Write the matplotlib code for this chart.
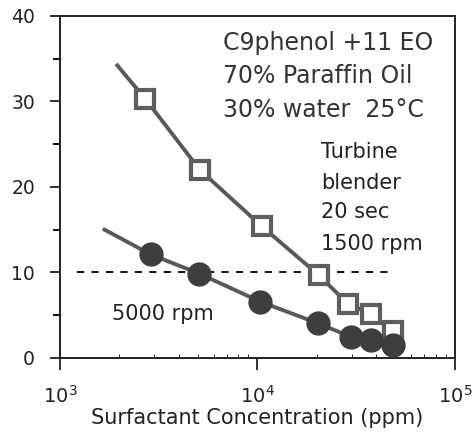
import matplotlib
matplotlib.use("Agg")
import matplotlib.pyplot as plt
from matplotlib.ticker import LogLocator, MultipleLocator, NullFormatter

# 1500 rpm (open squares)
conc_1500 = [2700, 5100, 10500, 20400, 28800, 37400, 48700]
drop_1500 = [30.3, 22.0, 15.4, 9.7, 6.3, 5.2, 3.1]
# 5000 rpm (filled circles)
conc_5000 = [2880, 5080, 10300, 20200, 29600, 37400, 48300]
drop_5000 = [12.1, 9.85, 6.6, 4.06, 2.5, 2.1, 1.5]
# fitted lines start a bit left of the first point
line_1500_x = [1950] + conc_1500
line_1500_y = [34.2] + drop_1500
line_5000_x = [1680] + conc_5000
line_5000_y = [15.0] + drop_5000
ref_x = [1220, 48300]
ref_y = [10, 10]

note_lines = ["C9phenol +11 EO", "70% Paraffin Oil", "30% water  25°C"]
mixer_lines = ["Turbine", "blender", "20 sec", "1500 rpm"]

line_col = "#595959"
sq_col = "#5e5e5e"
dot_col = "#3e3e3e"
txt_col = "#222222"

fig = plt.figure(figsize=(4.77, 4.36), dpi=100)
ax = fig.add_axes([0.1258, 0.1789, 0.828, 0.785])

ax.plot(line_1500_x, line_1500_y, color=line_col, lw=2.8, zorder=2)
ax.plot(conc_1500, drop_1500, ls="none", marker="s", ms=13, mfc="white",
        mec=sq_col, mew=3, zorder=3)
ax.plot(line_5000_x, line_5000_y, color=line_col, lw=2.8, zorder=2)
ax.plot(conc_5000, drop_5000, ls="none", marker="o", ms=16.5, mfc=dot_col,
        mec=dot_col, zorder=4)
ax.plot(ref_x, ref_y, color="black", ls=(0, (4, 4)), lw=1.3, zorder=1)

ax.set_xscale("log")
ax.set_xlim(1000, 100000)
ax.set_ylim(0, 40)
ax.yaxis.set_major_locator(MultipleLocator(10))
ax.yaxis.set_minor_locator(MultipleLocator(5))
ax.xaxis.set_minor_locator(LogLocator(subs=range(2, 10)))
ax.xaxis.set_minor_formatter(NullFormatter())
ax.tick_params(axis="y", which="major", labelsize=13.5, colors=txt_col,
               length=7, width=1.3, pad=11)
ax.tick_params(axis="y", which="minor", length=5, width=1.3)
ax.tick_params(axis="x", which="major", labelsize=14, colors=txt_col,
               length=8.5, width=1.3, pad=11)
ax.tick_params(axis="x", which="minor", length=3, direction="in")
for s in ax.spines.values():
    s.set_linewidth(1.4)
    s.set_color("#222222")

ax.set_xlabel("Surfactant Concentration (ppm)", fontsize=15, color=txt_col,
              labelpad=1)

for txt, y in zip(note_lines, [0.900, 0.803, 0.705]):
    ax.text(0.412, y, txt, transform=ax.transAxes, fontsize=17,
            color="#333333", va="baseline")
for txt, y in zip(mixer_lines, [0.583, 0.495, 0.408, 0.317]):
    ax.text(0.660, y, txt, transform=ax.transAxes, fontsize=15,
            color=txt_col, va="baseline")
ax.text(0.132, 0.110, "5000 rpm", transform=ax.transAxes, fontsize=15,
        color=txt_col, va="baseline")

fig.savefig("out.png", dpi=100)
